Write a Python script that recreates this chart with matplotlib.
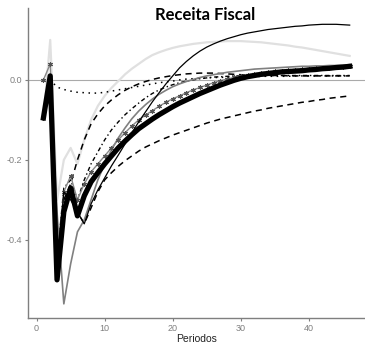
import matplotlib.pyplot as plt
import numpy as np

plt.rcParams["font.family"] = ["Liberation Sans", "DejaVu Sans"]

# periods 1..46
periods = np.arange(1, 47)

# thick black solid
resp_base = [-0.095, 0.01, -0.50, -0.33, -0.27, -0.34, -0.29, -0.255, -0.232, -0.21,
             -0.19, -0.17, -0.153, -0.137, -0.122, -0.11, -0.098, -0.087, -0.077, -0.067,
             -0.058, -0.05, -0.042, -0.034, -0.027, -0.02, -0.013, -0.007, -0.001, 0.004,
             0.008, 0.011, 0.014, 0.016, 0.018, 0.02, 0.021, 0.022, 0.023, 0.025,
             0.026, 0.028, 0.029, 0.031, 0.032, 0.034]

# thin black solid (rises to the top)
resp_thin = [-0.10, 0.0, -0.47, -0.28, -0.30, -0.33, -0.36, -0.31, -0.275, -0.245,
             -0.215, -0.188, -0.16, -0.132, -0.105, -0.08, -0.055, -0.032, -0.01, 0.01,
             0.03, 0.046, 0.06, 0.072, 0.082, 0.09, 0.097, 0.103, 0.108, 0.113,
             0.117, 0.12, 0.123, 0.126, 0.128, 0.13, 0.132, 0.134, 0.135, 0.137,
             0.138, 0.139, 0.139, 0.139, 0.138, 0.137]

# light gray solid
resp_light = [-0.10, 0.10, -0.30, -0.20, -0.17, -0.21, -0.15, -0.10, -0.065, -0.04,
              -0.02, -0.003, 0.014, 0.028, 0.04, 0.052, 0.062, 0.069, 0.075, 0.08,
              0.084, 0.087, 0.09, 0.092, 0.094, 0.095, 0.096, 0.097, 0.097, 0.097,
              0.096, 0.095, 0.094, 0.092, 0.09, 0.088, 0.086, 0.083, 0.081, 0.078,
              0.075, 0.072, 0.069, 0.066, 0.063, 0.06]

# medium gray solid (deepest trough)
resp_gray = [-0.10, 0.0, -0.33, -0.56, -0.46, -0.38, -0.35, -0.30, -0.25, -0.21,
             -0.175, -0.145, -0.12, -0.097, -0.078, -0.062, -0.048, -0.036, -0.026, -0.017,
             -0.01, -0.004, 0.001, 0.006, 0.01, 0.013, 0.016, 0.019, 0.021, 0.023,
             0.025, 0.027, 0.028, 0.029, 0.030, 0.031, 0.032, 0.033, 0.034, 0.034,
             0.035, 0.035, 0.036, 0.036, 0.037, 0.038]

# asterisk line
resp_star = [0.0, 0.04, -0.45, -0.28, -0.24, -0.30, -0.26, -0.23, -0.21, -0.19,
             -0.17, -0.15, -0.132, -0.115, -0.10, -0.088, -0.077, -0.066, -0.056, -0.047,
             -0.04, -0.032, -0.025, -0.019, -0.013, -0.007, -0.002, 0.002, 0.006, 0.01,
             0.013, 0.016, 0.018, 0.02, 0.022, 0.023, 0.025, 0.026, 0.027, 0.028,
             0.029, 0.03, 0.031, 0.032, 0.033, 0.034]

# dotted
resp_dot = [0.0, 0.0, -0.018, -0.024, -0.028, -0.031, -0.032, -0.033, -0.033, -0.031,
            -0.028, -0.025, -0.022, -0.019, -0.016, -0.013, -0.01, -0.007, -0.005, -0.003,
            0.0, 0.002, 0.003, 0.004, 0.005, 0.006, 0.006, 0.007, 0.007, 0.008,
            0.008, 0.008, 0.009, 0.009, 0.009, 0.009, 0.009, 0.01, 0.01, 0.01,
            0.01, 0.01, 0.01, 0.01, 0.01, 0.01]

# dashed, upper
resp_dash_hi = [-0.10, 0.0, -0.46, -0.30, -0.26, -0.20, -0.15, -0.11, -0.085, -0.065,
                -0.05, -0.037, -0.026, -0.017, -0.01, -0.004, 0.001, 0.005, 0.008, 0.011,
                0.013, 0.015, 0.016, 0.017, 0.017, 0.017, 0.016, 0.015, 0.014, 0.013,
                0.012, 0.012, 0.011, 0.011, 0.011, 0.011, 0.01, 0.01, 0.01, 0.01,
                0.01, 0.01, 0.01, 0.01, 0.01, 0.01]

# dashed, lower
resp_dash_lo = [-0.10, 0.0, -0.45, -0.29, -0.28, -0.33, -0.36, -0.32, -0.28, -0.25,
                -0.232, -0.216, -0.202, -0.19, -0.178, -0.168, -0.16, -0.152, -0.145, -0.138,
                -0.132, -0.126, -0.12, -0.114, -0.108, -0.103, -0.098, -0.094, -0.09, -0.086,
                -0.082, -0.078, -0.075, -0.071, -0.068, -0.065, -0.062, -0.059, -0.056, -0.054,
                -0.051, -0.049, -0.046, -0.044, -0.042, -0.04]

# dash-dot
resp_dashdot = [-0.10, 0.0, -0.45, -0.27, -0.25, -0.30, -0.25, -0.21, -0.18, -0.15,
                -0.125, -0.105, -0.087, -0.072, -0.058, -0.045, -0.034, -0.025, -0.018, -0.012,
                -0.007, -0.003, 0.0, 0.003, 0.005, 0.007, 0.008, 0.009, 0.01, 0.01,
                0.01, 0.011, 0.011, 0.011, 0.011, 0.011, 0.011, 0.011, 0.011, 0.011,
                0.011, 0.011, 0.011, 0.011, 0.011, 0.011]

fig = plt.figure(figsize=(3.65, 3.44), dpi=100)
ax = fig.add_axes([0.077, 0.076, 0.923, 0.901])

ax.axhline(0, color="#aaaaaa", lw=0.8, zorder=1)

ax.plot(periods, resp_light, color="#e0e0e0", lw=1.6)
ax.plot(periods, resp_dot, color="black", lw=1.1, linestyle=(0, (1, 3)))
ax.plot(periods, resp_dash_hi, color="black", lw=1.1, linestyle=(0, (4, 3)))
ax.plot(periods, resp_dash_lo, color="black", lw=1.1, linestyle=(0, (4, 3)))
ax.plot(periods, resp_dashdot, color="black", lw=1.0, linestyle=(0, (3, 2, 1, 2)))
ax.plot(periods, resp_gray, color="#808080", lw=1.2)
ax.plot(periods, resp_star, color="#888888", lw=1.0, marker=(6, 2, 0), markersize=3.5,
        markeredgewidth=0.8, markeredgecolor="#555555")
ax.plot(periods, resp_thin, color="black", lw=0.9)
ax.plot(periods, resp_base, color="black", lw=3.8)

ax.set_xlim(-1.25, 48.25)
ax.set_ylim(-0.595, 0.18)
ax.set_xticks([0, 10, 20, 30, 40])
ax.set_yticks([-0.4, -0.2, 0.0])
ax.set_yticklabels(["-0.4", "-0.2", "0.0"])
for s in ["top", "right"]:
    ax.spines[s].set_visible(False)
for s in ["left", "bottom"]:
    ax.spines[s].set_color("#7f7f7f")
    ax.spines[s].set_linewidth(1.0)
ax.tick_params(colors="#7f7f7f", labelsize=6.5, length=2.5, width=0.8, pad=2)
ax.set_xlabel("Periodos", fontsize=7.5, color="#222222", labelpad=1)

fig.text(0.562, 0.955, "Receita Fiscal", fontsize=12, fontweight="bold",
         family="Lato", ha="center", va="center")

fig.savefig("out.png", dpi=100)
